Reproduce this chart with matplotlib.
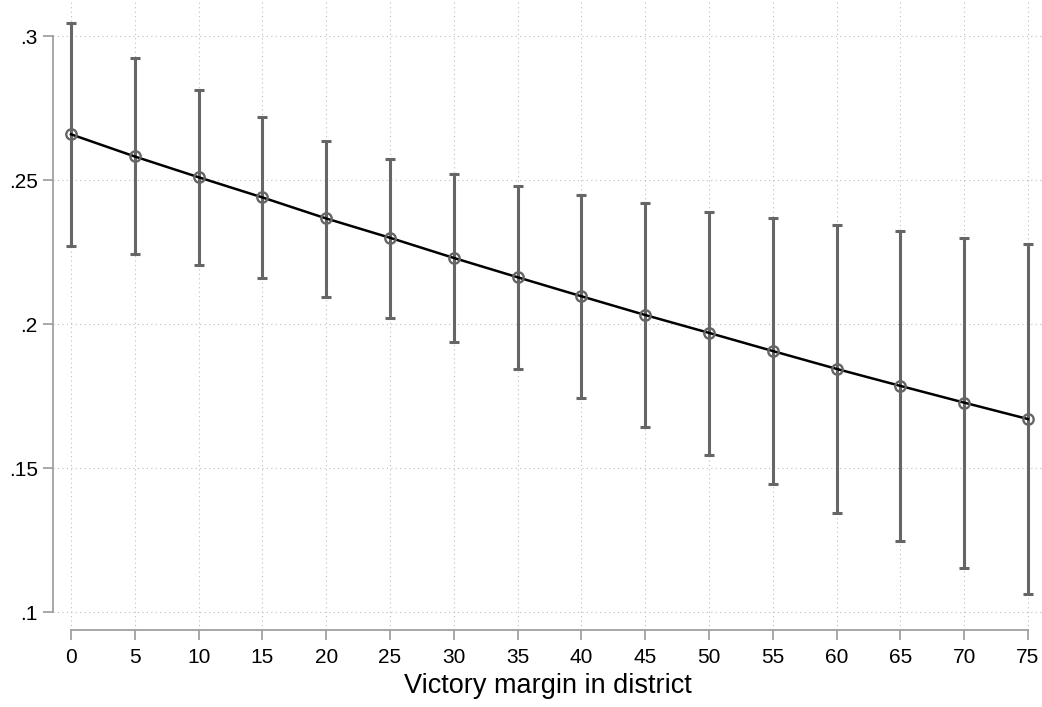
import matplotlib.pyplot as plt

plt.rcParams['font.family'] = ['Liberation Sans', 'DejaVu Sans']

# Predicted margins with 95% confidence intervals
margin = [0, 5, 10, 15, 20, 25, 30, 35, 40, 45, 50, 55, 60, 65, 70, 75]
estimate = [0.2659, 0.2582, 0.2510, 0.2440, 0.2367, 0.2300, 0.2230, 0.2163,
            0.2097, 0.2032, 0.1970, 0.1907, 0.1845, 0.1786, 0.1728, 0.1671]
ci_low = [0.2270, 0.2242, 0.2206, 0.2159, 0.2096, 0.2023, 0.1938, 0.1844,
          0.1744, 0.1643, 0.1545, 0.1446, 0.1345, 0.1249, 0.1154, 0.1063]
ci_high = [0.3045, 0.2923, 0.2814, 0.2718, 0.2637, 0.2573, 0.2522, 0.2480,
           0.2448, 0.2419, 0.2391, 0.2368, 0.2345, 0.2322, 0.2300, 0.2278]
y_ticks = [0.1, 0.15, 0.2, 0.25, 0.3]
y_labels = [".1", ".15", ".2", ".25", ".3"]

fig = plt.figure(figsize=(10.42, 7.07), dpi=100)
ax = fig.add_axes([53 / 1042, 1 - 630 / 707, 989 / 1042, 630 / 707])

# confidence interval bars
err_lo = [e - l for e, l in zip(estimate, ci_low)]
err_hi = [h - e for e, h in zip(estimate, ci_high)]
ax.errorbar(margin, estimate, yerr=[err_lo, err_hi], fmt="none",
            ecolor="#666666", elinewidth=2.2, capsize=3.6, capthick=2.2, zorder=2)

# fitted line with hollow markers
ax.plot(margin, estimate, color="black", lw=1.8, zorder=3)
ax.plot(margin, estimate, "o", ms=7.5, mfc="none", mec="#666666", mew=1.7, zorder=4)

ax.set_xlim(-1.41, 76.1)
ax.set_ylim(0.0939, 0.3125)

ax.set_xticks(margin)
ax.set_yticks(y_ticks)
ax.set_yticklabels(y_labels)

ax.grid(True, color="#bdbdbd", linestyle=(0, (1, 3)), linewidth=0.8, zorder=0)

for side in ["top", "right"]:
    ax.spines[side].set_visible(False)
for side in ["left", "bottom"]:
    ax.spines[side].set_color("#a0a0a0")
    ax.spines[side].set_linewidth(1.3)
ax.spines["left"].set_bounds(0.1, 0.3)
ax.spines["bottom"].set_bounds(0, 75)

ax.tick_params(axis="both", colors="#a0a0a0", length=7, width=1.3,
               labelcolor="black", labelsize=15)
ax.tick_params(axis="y", pad=4)
ax.tick_params(axis="x", pad=6)

ax.set_xlabel("Victory margin in district", fontsize=19.5, labelpad=4)

plt.savefig("out.png", dpi=100)
